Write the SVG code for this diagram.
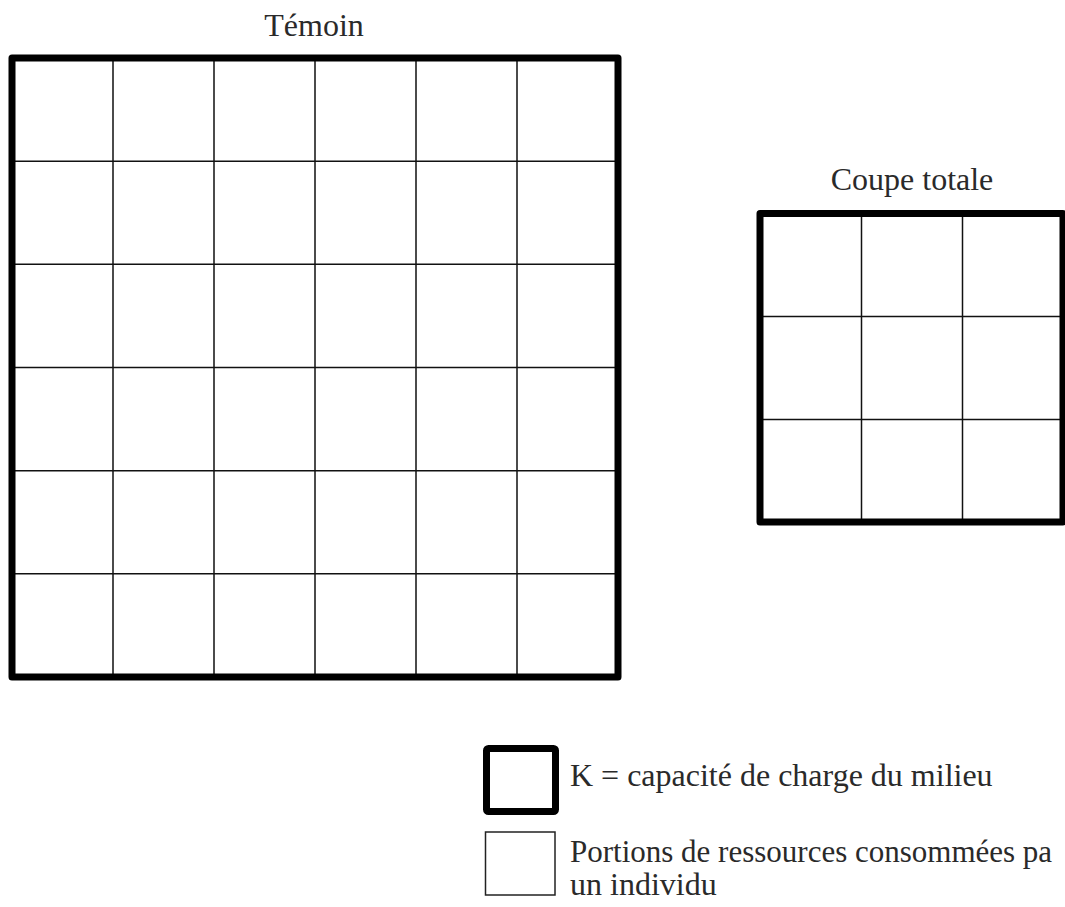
<svg xmlns="http://www.w3.org/2000/svg" width="1065" height="907" viewBox="0 0 1065 907">
<style>
.t{font-family:"Liberation Serif","Times New Roman",serif;font-size:32px;fill:#2a2a2a}
.frame{fill:none;stroke:#000;stroke-width:7;stroke-linejoin:round}
.grid{fill:none;stroke:#111;stroke-width:1.5}
.thin{fill:none;stroke:#222;stroke-width:1.5}
</style>
<rect width="1065" height="907" fill="#fff"/>
<g id="temoin">
<text class="t" x="314" y="36" text-anchor="middle">Témoin</text>
<g class="grid">
<path d="M113 58V677M214 58V677M315 58V677M416 58V677M517 58V677"/>
<path d="M12 161.2H618M12 264.3H618M12 367.5H618M12 470.7H618M12 573.8H618"/>
</g>
<rect class="frame" x="12" y="58" width="606" height="619"/>
</g>
<g id="coupe-totale">
<text class="t" x="912" y="190" text-anchor="middle">Coupe totale</text>
<g class="grid">
<path d="M861.5 213.5V522M962.5 213.5V522"/>
<path d="M760 316.5H1063M760 419.5H1063"/>
</g>
<rect class="frame" x="760" y="213.5" width="303" height="308.5"/>
</g>
<g id="legend-k">
<rect class="frame" x="486.5" y="748.5" width="69" height="63" rx="2"/>
<text class="t" x="570" y="786">K = capacité de charge du milieu</text>
</g>
<g id="legend-portion">
<rect class="thin" x="485.5" y="832" width="69.5" height="63"/>
<text class="t" x="570" y="862" style="font-size:31px">Portions de ressources consommées pa</text>
<text class="t" x="570" y="895">un individu</text>
</g>
<g id="connectors"/>
</svg>
